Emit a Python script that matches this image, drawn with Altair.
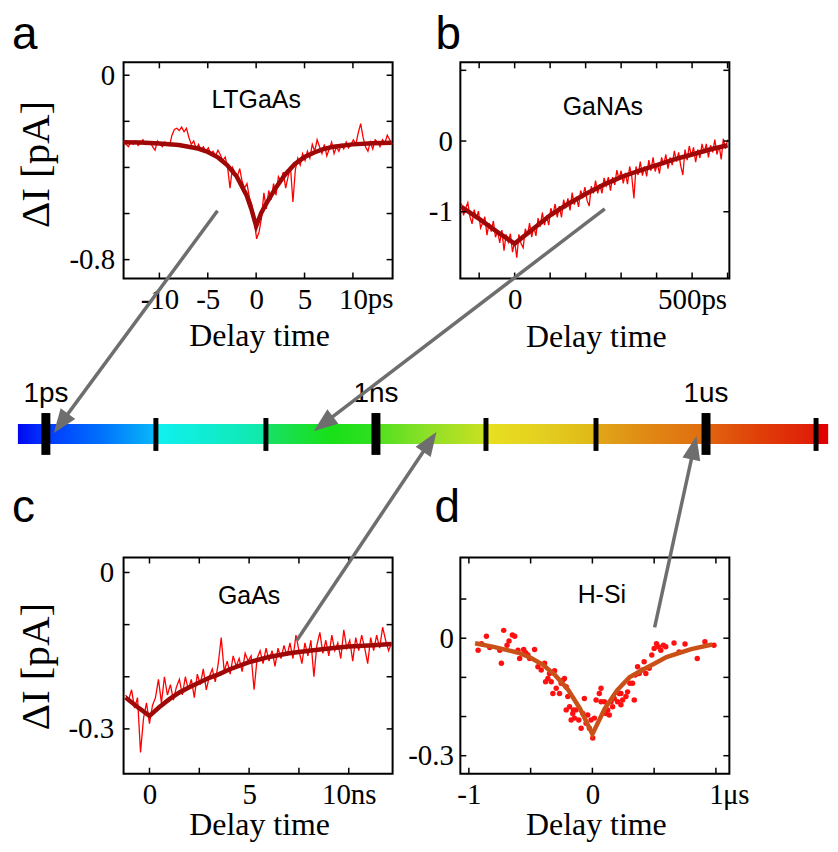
import math
import altair as alt
import pandas as pd

W, H = 270, 217
SERIF = "Liberation Serif"
SANS = "Liberation Sans"
GRAY = "#6e6e6e"
ROW_GAP = 280

# ---------------- panel a : LTGaAs (ps) ----------------
a_t0, a_dt = -13.7, 0.25
a_vals = [-0.285, -0.30, -0.31, -0.29, -0.30, -0.285, -0.305, -0.295, -0.28, -0.30,
          -0.295, -0.29, -0.31, -0.325, -0.285, -0.30, -0.31, -0.29, -0.30, -0.305,
          -0.26, -0.235, -0.23, -0.24, -0.225, -0.245, -0.23, -0.27, -0.30, -0.285,
          -0.32, -0.30, -0.325, -0.31, -0.33, -0.315, -0.34, -0.33, -0.35, -0.325,
          -0.345, -0.37, -0.355, -0.40, -0.49, -0.40, -0.42, -0.44, -0.405, -0.46,
          -0.49, -0.47, -0.53, -0.56, -0.63, -0.71, -0.68, -0.62, -0.51, -0.58,
          -0.50, -0.54, -0.47, -0.52, -0.44, -0.46, -0.42, -0.49, -0.44, -0.40,
          -0.55, -0.41, -0.36, -0.39, -0.34, -0.37, -0.33, -0.36, -0.30, -0.33,
          -0.28, -0.31, -0.34, -0.30, -0.35, -0.32, -0.29, -0.34, -0.31, -0.33,
          -0.30, -0.32, -0.29, -0.315, -0.30, -0.28, -0.30, -0.25, -0.21, -0.27,
          -0.31, -0.33, -0.29, -0.32, -0.28, -0.29, -0.31, -0.28, -0.295, -0.26,
          -0.28, -0.30]
a_fit_t = [-13.7, -12, -10, -8, -6, -5, -4, -3, -2, -1, -0.5, 0, 0.5, 1, 2, 3, 4, 5, 6, 7, 8, 10, 12, 14.0]
a_fit_v = [-0.291, -0.292, -0.296, -0.303, -0.318, -0.333, -0.355, -0.39, -0.44, -0.52, -0.58, -0.655,
           -0.60, -0.56, -0.49, -0.43, -0.385, -0.355, -0.335, -0.32, -0.31, -0.30, -0.295, -0.293]
a_xticks = [-10, -5, 0, 5, 10]
a_yticks = [0, -0.2, -0.4, -0.6, -0.8]
a_xlabels = [-10, -5, 0, 5, 10]
a_ylabels = [0, -0.8]

# ---------------- panel b : GaNAs (ps) ----------------
b_t0, b_dt = -150, 6
b_vals = [-0.88, -1.05, -0.95, -0.87, -1.07, -1.17, -0.97, -1.10, -0.99, -1.23,
          -1.16, -1.07, -1.33, -1.16, -1.28, -1.13, -1.36, -1.27, -1.44, -1.26,
          -1.55, -1.32, -1.43, -1.31, -1.57, -1.42, -1.65, -1.32, -1.45, -1.51,
          -1.24, -1.34, -1.16, -1.36, -1.21, -1.34, -1.09, -1.21, -1.01, -1.19,
          -1.05, -1.19, -0.95, -1.04, -0.89, -1.08, -0.92, -1.08, -0.83, -0.95,
          -0.81, -0.98, -0.73, -0.90, -0.79, -0.93, -0.70, -0.79, -0.65, -0.84,
          -0.92, -0.64, -0.74, -0.56, -0.74, -0.61, -0.74, -0.52, -0.63, -0.51,
          -0.70, -0.51, -0.62, -0.41, -0.54, -0.42, -0.60, -0.45, -0.61, -0.36,
          -0.50, -0.81, -0.36, -0.48, -0.29, -0.49, -0.36, -0.50, -0.27, -0.42,
          -0.23, -0.43, -0.32, -0.46, -0.23, -0.34, -0.19, -0.39, -0.23, -0.34,
          -0.14, -0.29, -0.16, -0.35, -0.48, -0.12, -0.27, -0.07, -0.21, -0.09,
          -0.30, -0.12, -0.24, -0.04, -0.17, -0.04, -0.23, -0.06, -0.16, 0.02,
          -0.19, -0.06, -0.26, 0.03, -0.11, 0.02]
b_fit_t = [-150, -100, -50, 0, 50, 100, 150, 200, 250, 300, 350, 400, 450, 500, 550, 600]
b_fit_v = [-0.93, -1.10, -1.28, -1.45, -1.25, -1.05, -0.89, -0.75, -0.62, -0.51, -0.42, -0.34,
           -0.26, -0.19, -0.12, -0.06]
b_xticks = [-100, 0, 100, 200, 300, 400, 500, 600]
b_yticks = [1, 0, -1]
b_xlabels = [0, 500]
b_ylabels = [0, -1]

# ---------------- panel c : GaAs (ns) ----------------
c_t0, c_dt = -1.2, 0.15
c_vals = [-0.235, -0.245, -0.225, -0.26, -0.24, -0.345, -0.28, -0.25, -0.29, -0.255,
          -0.24, -0.205, -0.25, -0.20, -0.235, -0.215, -0.245, -0.22, -0.205, -0.235,
          -0.20, -0.225, -0.205, -0.24, -0.195, -0.215, -0.185, -0.225, -0.20, -0.185,
          -0.21, -0.175, -0.125, -0.19, -0.17, -0.195, -0.16, -0.18, -0.165, -0.19,
          -0.155, -0.17, -0.16, -0.225, -0.165, -0.15, -0.175, -0.145, -0.17, -0.15,
          -0.18, -0.145, -0.165, -0.14, -0.16, -0.135, -0.165, -0.12, -0.15, -0.175,
          -0.135, -0.16, -0.13, -0.20, -0.14, -0.115, -0.155, -0.13, -0.16, -0.12,
          -0.15, -0.135, -0.165, -0.11, -0.145, -0.13, -0.17, -0.125, -0.15, -0.12,
          -0.145, -0.175, -0.125, -0.15, -0.12, -0.145, -0.105, -0.13, -0.15, -0.135]
c_fit_t = [-1.2, -0.6, 0, 0.5, 1, 1.5, 2, 2.5, 3, 3.5, 4, 5, 6, 7, 8, 9, 10, 11, 12.15]
c_fit_v = [-0.24, -0.258, -0.275, -0.258, -0.243, -0.230, -0.220, -0.211, -0.202, -0.195, -0.186,
           -0.172, -0.162, -0.155, -0.150, -0.146, -0.142, -0.140, -0.137]
c_xticks = [0, 2.5, 5, 7.5, 10]
c_yticks = [0, -0.1, -0.2, -0.3]
c_xlabels = [0, 5, 10]
c_ylabels = [0, -0.3]

# ---------------- panel d : H-Si (us) ----------------
d_pt_t = [-0.925, -0.898, -0.858, -0.831, -0.75, -0.737, -0.718, -0.691, -0.675, -0.648,
          -0.629, -0.602, -0.589, -0.556, -0.540, -0.522, -0.508, -0.468, -0.441, -0.414,
          -0.387, -0.379, -0.360, -0.347, -0.333, -0.320, -0.306, -0.293, -0.266, -0.253,
          -0.239, -0.226, -0.212, -0.212, -0.199, -0.185, -0.172, -0.159, -0.153, -0.145,
          -0.132, -0.110, -0.091, -0.078, -0.065, -0.051, -0.038, -0.024, -0.011, 0.003,
          0.016, 0.030, 0.056, 0.070, 0.070, 0.097, 0.110, 0.124, 0.137, 0.151,
          0.164, 0.177, 0.204, 0.218, 0.231, 0.231, 0.245, 0.272, 0.285, 0.304,
          0.325, 0.339, 0.347, 0.366, 0.379, 0.406, 0.419, 0.433, 0.460, 0.481,
          0.500, 0.519, 0.535, 0.554, 0.575, 0.594, 0.661, 0.702, 0.750, 0.849,
          0.911, 0.984]
d_pt_v = [-0.031, -0.014, 0.005, -0.024, -0.031, -0.064, 0.020, -0.018, -0.007, 0.008,
          0.005, -0.031, -0.052, -0.029, -0.037, -0.043, -0.052, -0.029, -0.073, -0.081,
          -0.064, -0.111, -0.103, -0.090, -0.111, -0.141, -0.083, -0.128, -0.141, -0.115,
          -0.107, -0.103, -0.124, -0.183, -0.149, -0.175, -0.209, -0.192, -0.183, -0.204,
          -0.183, -0.209, -0.230, -0.192, -0.154, -0.217, -0.196, -0.230, -0.209, -0.255,
          -0.204, -0.158, -0.141, -0.128, -0.162, -0.162, -0.192, -0.183, -0.196, -0.162,
          -0.175, -0.154, -0.162, -0.141, -0.170, -0.141, -0.158, -0.149, -0.137, -0.115,
          -0.115, -0.158, -0.094, -0.073, -0.090, -0.081, -0.060, -0.090, -0.077, -0.043,
          -0.026, -0.014, -0.022, -0.031, -0.018, -0.022, -0.012, -0.035, -0.015, -0.052,
          -0.009, -0.018]
d_fit_t = [-0.95, -0.8, -0.6, -0.5, -0.4, -0.3, -0.2, -0.1, 0, 0.1, 0.2, 0.3, 0.4, 0.5, 0.6, 0.8, 0.97]
d_fit_v = [-0.013, -0.022, -0.037, -0.05, -0.068, -0.095, -0.13, -0.18, -0.245, -0.18, -0.133,
           -0.10, -0.082, -0.065, -0.048, -0.028, -0.016]
d_xticks = [-1, -0.5, 0, 0.5, 1]
d_yticks = [0.1, 0, -0.1, -0.2, -0.3]
d_xlabels = [-1, 0, 1]
d_ylabels = [0, -0.3]

# ---------------- timeline (log10 seconds) ----------------
tl_major = [-12, -9, -6]
tl_major_text = ["1ps", "1ns", "1us"]
tl_minor = [-11, -10, -8, -7, -5]
tl_bar = [-12.254, -4.89]
# arrows: tail (decade, bar-units), tip (decade, bar-units)
arr_tail_d = [-10.44, -6.92, -9.718, -6.467]
arr_tail_u = [-10.7, -10.8, 10.85, 10.2]
arr_tip_d = [-11.928, -9.564, -8.45, -6.087]
arr_tip_u = [0.45, 0.35, 0.4, 0.6]
grad_off = [0, 0.034, 0.102, 0.169, 0.171, 0.237, 0.304, 0.306, 0.385, 0.440, 0.444, 0.508,
            0.576, 0.578, 0.644, 0.711, 0.713, 0.779, 0.849, 0.852, 0.914, 0.984, 0.987, 1]
grad_col = ["#0008f0", "#0038ff", "#0070fc", "#08b8f8", "#10f0f0", "#10ecd0", "#10e8a8", "#18e068",
            "#18e018", "#30e020", "#50e020", "#90e028", "#c8e020", "#e8e020", "#e4d020", "#e0b818",
            "#e0a818", "#e08814", "#e06c10", "#e06410", "#e04008", "#e01c08", "#e00000", "#e00000"]


def grid(t0, dt, vals):
    return pd.DataFrame({"t": [round(t0 + dt * i, 4) for i in range(len(vals))], "v": vals})


one = pd.DataFrame({"k": [0]})


def panel(cfg):
    xs = alt.Scale(domain=cfg["xdom"], nice=False, zero=False)
    ys = alt.Scale(domain=cfg["ydom"], nice=False, zero=False)
    xax = alt.Axis(values=cfg["xlabels"], labelExpr=cfg["xexpr"], title="Delay time",
                   titleX=136, titleY=cfg["xtitle_y"], titleBaseline="alphabetic", titleAlign="center",
                   titleFontSize=32, labelPadding=cfg["xlabpad"], labelFontSize=29, labelOverlap=False,
                   labelFlush=False)
    yargs = dict(values=cfg["ylabels"], labelExpr="'' + datum.value", labelPadding=cfg["ylabpad"],
                 labelFontSize=29, labelOverlap=False, labelFlush=False)
    if cfg.get("ytitle"):
        yargs.update(title=cfg["ytitle"], titleX=-87, titleY=cfg["ytitle_y"], titleAngle=270,
                     titleBaseline="middle", titleAlign="center", titleFontSize=41)
    else:
        yargs["title"] = None
    X = alt.X("t:Q", scale=xs, axis=xax)
    Y = alt.Y("v:Q", scale=ys, axis=alt.Axis(**yargs))
    layers = []
    if cfg.get("bounds"):
        layers.append(alt.Chart(one).mark_rect(opacity=0, color="white").encode(
            x=alt.value(-115), x2=alt.value(707), y=alt.value(-52), y2=alt.value(770)))
    if cfg.get("line") is not None:
        layers.append(alt.Chart(cfg["line"]).mark_line(color="#ff0000", strokeWidth=1.3).encode(x=X, y=Y))
    if cfg.get("pts") is not None:
        layers.append(alt.Chart(cfg["pts"]).mark_circle(color="#ff1010", size=30, opacity=1).encode(x=X, y=Y))
    layers.append(alt.Chart(cfg["fit"]).mark_line(color=cfg["fitcol"], strokeWidth=4.5).encode(x=X, y=Y))
    xt = alt.Chart(pd.DataFrame({"t": cfg["xticks"]}))
    yt = alt.Chart(pd.DataFrame({"v": cfg["yticks"]}))
    layers += [
        xt.mark_rule(color="black", strokeWidth=1.5).encode(x=X, y=alt.value(H), y2=alt.value(H - 6)),
        xt.mark_rule(color="black", strokeWidth=1.5).encode(x=X, y=alt.value(0), y2=alt.value(6)),
        yt.mark_rule(color="black", strokeWidth=1.5).encode(y=Y, x=alt.value(0), x2=alt.value(6)),
        yt.mark_rule(color="black", strokeWidth=1.5).encode(y=Y, x=alt.value(W), x2=alt.value(W - 6)),
    ]
    ix, iy = cfg["inner_xy"]
    layers.append(alt.Chart(one).mark_text(text=cfg["inner"], font=SANS, fontSize=25, align="center",
                                           baseline="alphabetic", color="black").encode(
        x=alt.value(ix), y=alt.value(iy)))
    lx, ly = cfg["letter_xy"]
    layers.append(alt.Chart(one).mark_text(text=cfg["letter"], font=SANS, fontSize=46, align="left",
                                           baseline="alphabetic", color="black").encode(
        x=alt.value(lx), y=alt.value(ly)))
    if cfg.get("unit"):
        layers.append(alt.Chart(pd.DataFrame({"t": [cfg["unit_x"]]})).mark_text(
            text=cfg["unit"], font=SERIF, fontSize=29, align="left", baseline="top",
            dx=cfg["unit_dx"], color="black").encode(x=X, y=alt.value(H + cfg["xlabpad"])))
    return layers


cfg_a = dict(
    bounds=True, line=grid(a_t0, a_dt, a_vals), fit=pd.DataFrame({"t": a_fit_t, "v": a_fit_v}),
    fitcol="#a00808", xdom=[-13.7, 14.1], ydom=[-0.882, 0.056], xticks=a_xticks, yticks=a_yticks,
    xlabels=a_xlabels, ylabels=a_ylabels, xexpr="'' + datum.value", xtitle_y=67, xlabpad=7,
    ytitle="ΔI [pA]", ytitle_y=102, ylabpad=9, inner="LTGaAs", inner_xy=(133, 46),
    letter="a", letter_xy=(-112, -13), unit="ps", unit_x=10, unit_dx=15)
cfg_b = dict(
    line=grid(b_t0, b_dt, b_vals), fit=pd.DataFrame({"t": b_fit_t, "v": b_fit_v}),
    fitcol="#a00808", xdom=[-153, 605], ydom=[-1.944, 1.113], xticks=b_xticks, yticks=b_yticks,
    xlabels=b_xlabels, ylabels=b_ylabels, xexpr="datum.value == 500 ? '500ps' : '' + datum.value",
    xtitle_y=68, xlabpad=7, ylabpad=8, inner="GaNAs", inner_xy=(143, 53),
    letter="b", letter_xy=(-25, -13))
cfg_c = dict(
    line=grid(c_t0, c_dt, c_vals), fit=pd.DataFrame({"t": c_fit_t, "v": c_fit_v}),
    fitcol="#a00808", xdom=[-1.3, 12.2], ydom=[-0.386, 0.0287], xticks=c_xticks, yticks=c_yticks,
    xlabels=c_xlabels, ylabels=c_ylabels, xexpr="datum.value == 10 ? '10ns' : '' + datum.value",
    xtitle_y=61, xlabpad=7, ytitle="ΔI [pA]", ytitle_y=109, ylabpad=10, inner="GaAs",
    inner_xy=(126, 47), letter="c", letter_xy=(-112, -36))
cfg_d = dict(
    pts=pd.DataFrame({"t": d_pt_t, "v": d_pt_v}), fit=pd.DataFrame({"t": d_fit_t, "v": d_fit_v}),
    fitcol="#c95118", xdom=[-1.069, 1.109], ydom=[-0.346, 0.206], xticks=d_xticks, yticks=d_yticks,
    xlabels=d_xlabels, ylabels=d_ylabels, xexpr="'' + datum.value", xtitle_y=61, xlabpad=7,
    ylabpad=7, inner="H-Si", inner_xy=(142, 46), letter="d", letter_xy=(-26, -36),
    unit="μs", unit_x=1, unit_dx=7)

pa = alt.layer(*panel(cfg_a)).properties(width=W, height=H)
pb = alt.layer(*panel(cfg_b)).properties(width=W, height=H)
pc = alt.layer(*panel(cfg_c)).properties(width=W, height=H)
pd_inner = alt.layer(*panel(cfg_d))

# ---- timeline layer (drawn inside panel d with its own scales) ----
BAR_TOP = 423 - (60 + H + ROW_GAP)
TLX = alt.Scale(domain=[-12, -5], range=[-416, 357], nice=False, zero=False)
TLY = alt.Scale(domain=[0, 1], range=[BAR_TOP, BAR_TOP + 20], nice=False, zero=False)
TX = alt.X("d:Q", scale=TLX, axis=None)
TY = alt.Y("u:Q", scale=TLY, axis=None)
PXD = (357 - (-416)) / 7.0
PXU = 20.0

grad = {"gradient": "linear", "x1": 0, "x2": 1, "y1": 0, "y2": 0,
        "stops": [{"offset": o, "color": c} for o, c in zip(grad_off, grad_col)]}

bar = alt.Chart(pd.DataFrame({"d": [tl_bar[0]], "d2": [tl_bar[1]], "u": [0.0], "u2": [1.0]})).mark_rect(
    color=grad).encode(x=TX, x2="d2:Q", y=TY, y2="u2:Q")
major = alt.Chart(pd.DataFrame({"d": tl_major, "u": [-0.55] * 3, "u2": [1.55] * 3})).mark_rule(
    color="black", strokeWidth=9, strokeCap="butt").encode(x=TX, y=TY, y2="u2:Q")
minor = alt.Chart(pd.DataFrame({"d": tl_minor, "u": [-0.3] * 5, "u2": [1.35] * 5})).mark_rule(
    color="black", strokeWidth=5, strokeCap="butt").encode(x=TX, y=TY, y2="u2:Q")
tl_text = alt.Chart(pd.DataFrame({"d": tl_major, "u": [-1.1] * 3, "s": tl_major_text})).mark_text(
    font=SANS, fontSize=28, baseline="alphabetic", align="center", color="black").encode(
    x=TX, y=TY, text="s:N")

rows = []
for td, tu, pdd, pu in zip(arr_tail_d, arr_tail_u, arr_tip_d, arr_tip_u):
    dxp = (pdd - td) * PXD
    dyp = (pu - tu) * PXU
    L = math.hypot(dxp, dyp)
    ux, uy = dxp / L, dyp / L
    rows.append({"d": td, "u": tu, "d2": pdd - 16 * ux / PXD, "u2": pu - 16 * uy / PXU,
                 "hd": pdd, "hu": pu, "ang": math.degrees(math.atan2(ux, -uy)) % 360})
arr_df = pd.DataFrame(rows)
shafts = alt.Chart(arr_df).mark_rule(color=GRAY, strokeWidth=3.5, strokeCap="butt").encode(
    x=TX, y=TY, x2="d2:Q", y2="u2:Q")
heads = alt.Chart(arr_df).mark_point(shape="M0,0L0.38,1L-0.38,1Z", size=2304, filled=True,
                                     color=GRAY, opacity=1, strokeWidth=0).encode(
    x=alt.X("hd:Q", scale=TLX, axis=None), y=alt.Y("hu:Q", scale=TLY, axis=None),
    angle=alt.Angle("ang:Q", scale=None))

timeline = alt.layer(bar, minor, major, tl_text, shafts, heads)

pdd_chart = alt.layer(pd_inner, timeline).resolve_scale(x="independent", y="independent").properties(
    width=W, height=H)

chart = alt.concat(pa, pb, pc, pdd_chart, columns=2, spacing={"row": ROW_GAP, "column": 68}).properties(
    bounds="flush", padding=0
).configure_view(stroke="black", strokeWidth=2).configure_axis(
    domain=False, ticks=False, tickSize=0, grid=False, labelFont=SERIF, labelColor="black",
    titleFont=SERIF, titleColor="black", titleFontWeight="normal")

chart.save("out.html", embed_options={"renderer": "svg", "actions": False})
